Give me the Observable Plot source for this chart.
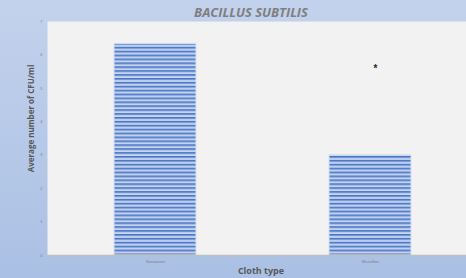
<!DOCTYPE html>
<html><head><meta charset="utf-8">
<script src="https://cdn.jsdelivr.net/npm/d3@7"></script>
<script src="https://cdn.jsdelivr.net/npm/@observablehq/plot@0.6"></script>
<style>
html,body{margin:0;padding:0;}
body{width:466px;height:278px;overflow:hidden;background:linear-gradient(to bottom,#c3d2ec,#aac0e4);}
svg{display:block;background:transparent;}
</style></head>
<body>
<div id="chart"></div>
<script>
const categories = ["Nonwoven", "Microfiber"];
const values = [6.33, 3.0];
const yTicks = [0, 1, 2, 3, 4, 5, 6, 7];
const markers = [{cloth: "Microfiber", y: 5.65, label: "*"}];
const title = "BACILLUS SUBTILIS";
const yLabel = "Average number of CFU/ml";
const xLabel = "Cloth type";

const data = categories.map((c, i) => ({cloth: c, value: values[i]}));

const chart = Plot.plot({
  width: 466,
  height: 278,
  marginLeft: 47,
  marginRight: 0,
  marginTop: 21,
  marginBottom: 23,
  style: {background: "transparent", fontFamily: "Liberation Sans, Arial, sans-serif", overflow: "visible"},
  x: {domain: categories, range: [47.5, 477.5], paddingInner: 0.62, paddingOuter: 0.31, label: null},
  y: {domain: [0, 7], label: null},
  marks: [
    Plot.frame({fill: "#f2f2f2", stroke: null}),
    Plot.barY(data, {x: "cloth", y: "value", fill: "url(#stripes)", stroke: "#d6e0f3", strokeWidth: 1}),
    Plot.ruleY([0], {stroke: "#bfbfbf", strokeWidth: 1.5}),
    Plot.axisX({tickSize: 0, tickPadding: 5, fontSize: 4, color: "#7f7f7f"}),
    Plot.axisY({ticks: yTicks, tickSize: 0, tickPadding: 5, fontSize: 4, color: "#7f7f7f", tickFormat: d3.format("d")}),
    Plot.text(markers, {x: "cloth", y: "y", text: "label", fontSize: 10, fontWeight: "bold", fill: "#262626", dx: 5, dy: 2}),
    Plot.text([title], {frameAnchor: "top", textAnchor: "middle", dx: -6, dy: -14, fontSize: 13, fontWeight: "bold", fontStyle: "italic", fill: "#7f7f7f", fontFamily: "Open Sans, sans-serif"}),
    Plot.text([yLabel], {frameAnchor: "left", textAnchor: "middle", rotate: -90, dx: -16, dy: -20, fontSize: 8, fontWeight: "bold", fill: "#595959", fontFamily: "Open Sans, sans-serif"}),
    Plot.text([xLabel], {frameAnchor: "bottom", textAnchor: "middle", dx: 4, dy: 18, fontSize: 9, fontWeight: "bold", fill: "#595959", fontFamily: "Open Sans, sans-serif"})
  ]
});

const ns = "http://www.w3.org/2000/svg";
const defs = document.createElementNS(ns, "defs");
defs.innerHTML = `<pattern id="stripes" patternUnits="userSpaceOnUse" x="0" y="0" width="8" height="3.9">
  <rect width="8" height="3.9" fill="#c9d7f0"/>
  <rect y="0" width="8" height="1.7" fill="#4675c7"/>
  <rect y="1.7" width="8" height="0.5" fill="#8eaadf"/>
</pattern>`;
chart.insertBefore(defs, chart.firstChild);
document.getElementById("chart").appendChild(chart);
</script>
</body></html>
